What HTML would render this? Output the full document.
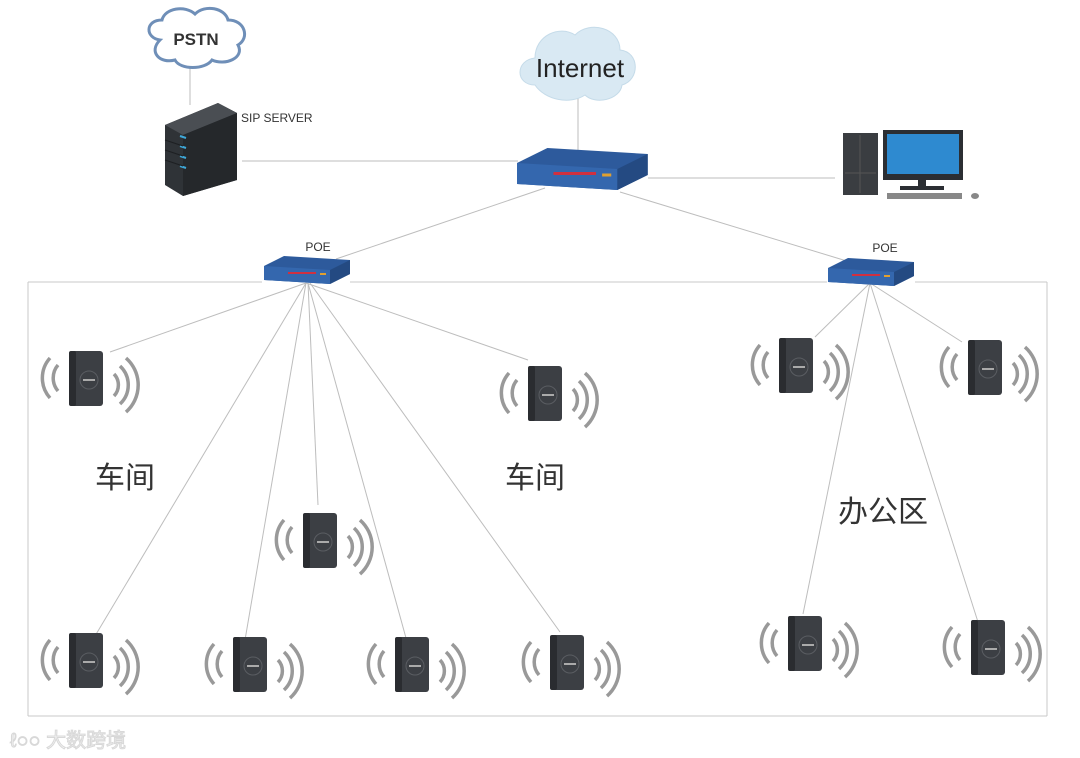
<!DOCTYPE html>
<html><head><meta charset="utf-8"><style>
html,body{margin:0;padding:0;background:#fff;}
svg{display:block}
text{font-family:"Liberation Sans","Noto Sans CJK SC",sans-serif}
</style></head><body>
<svg width="1080" height="758" viewBox="0 0 1080 758" xmlns="http://www.w3.org/2000/svg">
<defs>
<g id="ap">
  <path d="M-36,-20 A30,30 0 0 0 -36,20" fill="none" stroke="#999" stroke-width="3.5"/>
  <path d="M-28,-13 A20,20 0 0 0 -28,13" fill="none" stroke="#999" stroke-width="3.5"/>
  <path d="M28,-4 A16,16 0 0 1 28,18" fill="none" stroke="#999" stroke-width="3.5"/>
  <path d="M34,-12 A26,26 0 0 1 34,26" fill="none" stroke="#999" stroke-width="3.5"/>
  <path d="M40,-20 A36,36 0 0 1 40,34" fill="none" stroke="#999" stroke-width="3.5"/>
  <rect x="-17" y="-27" width="34" height="55" rx="3" fill="#3c3f44"/>
  <rect x="-17" y="-27" width="7" height="55" rx="2" fill="#2a2c30"/>
  <circle cx="3" cy="2" r="9" fill="none" stroke="#5a5d62" stroke-width="1"/>
  <rect x="-3" y="1" width="12" height="2" fill="#aaa"/>
</g>
<g id="sw">
  <path d="M0,10 L20,0 L86,4 L86,18 L66,28 L0,24 Z" fill="#2d5a9c"/>
  <path d="M0,10 L66,14 L66,28 L0,24 Z" fill="#3467ae"/>
  <path d="M66,14 L86,4 L86,18 L66,28 Z" fill="#244a82"/>
  <rect x="24" y="16" width="28" height="2" fill="#d03040"/>
  <rect x="56" y="17" width="6" height="2" fill="#e0a030"/>
</g>
</defs>

<!-- border -->
<g stroke="#c8c8c8" stroke-width="1" fill="none">
<line x1="28" y1="282" x2="262" y2="282"/>
<line x1="350" y1="282" x2="827" y2="282"/>
<line x1="915" y1="282" x2="1047" y2="282"/>
<line x1="1047" y1="282" x2="1047" y2="716"/>
<line x1="28" y1="716" x2="1047" y2="716"/>
<line x1="28" y1="282" x2="28" y2="716"/>
</g>

<!-- lines -->
<g stroke="#bdbdbd" stroke-width="1" fill="none">
<line x1="190" y1="62" x2="190" y2="105"/>
<line x1="578" y1="98" x2="578" y2="150"/>
<line x1="242" y1="161" x2="518" y2="161"/>
<line x1="648" y1="178" x2="835" y2="178"/>
<line x1="545" y1="188" x2="336" y2="259"/>
<line x1="620" y1="192" x2="850" y2="262"/>
<line x1="306" y1="283" x2="110" y2="352"/>
<line x1="306" y1="283" x2="528" y2="360"/>
<line x1="306" y1="283" x2="95" y2="636"/>
<line x1="306" y1="283" x2="245" y2="640"/>
<line x1="308" y1="283" x2="318" y2="505"/>
<line x1="308" y1="283" x2="406" y2="638"/>
<line x1="310" y1="283" x2="560" y2="632"/>
<line x1="870" y1="283" x2="815" y2="337"/>
<line x1="870" y1="283" x2="962" y2="342"/>
<line x1="870" y1="283" x2="803" y2="614"/>
<line x1="870" y1="283" x2="978" y2="622"/>
</g>

<!-- PSTN cloud -->
<g>
<path d="M160,40 C145,38 145,20 162,20 C165,8 185,5 195,14 C205,4 225,8 228,20 C245,20 250,38 238,45 C245,58 225,66 212,60 C205,70 180,70 175,60 C160,64 148,52 160,40 Z" fill="#fff" stroke="#6f8fb8" stroke-width="3"/>
<text x="196" y="45" font-size="17" font-weight="bold" text-anchor="middle" fill="#333">PSTN</text>
</g>

<!-- server -->
<g>
<path d="M165,125 L218,103 L237,113 L237,180 L183,196 L165,185 Z" fill="#2f3337"/>
<path d="M165,125 L218,103 L237,113 L183,135 Z" fill="#4a4e53"/>
<path d="M183,135 L237,113 L237,180 L183,196 Z" fill="#25282b"/>
<g stroke="#3fa8d8" stroke-width="2"><line x1="180" y1="136" x2="186" y2="138"/><line x1="180" y1="146" x2="186" y2="148"/><line x1="180" y1="156" x2="186" y2="158"/><line x1="180" y1="166" x2="186" y2="168"/></g>
<g stroke="#1d1f22" stroke-width="1"><line x1="165" y1="140" x2="183" y2="146"/><line x1="165" y1="150" x2="183" y2="156"/><line x1="165" y1="160" x2="183" y2="166"/></g>
<text x="241" y="122" font-size="12" fill="#333">SIP SERVER</text>
</g>

<!-- Internet cloud -->
<g>
<path d="M535,85 C515,85 515,60 535,58 C535,35 560,25 575,35 C590,20 620,28 620,50 C640,52 640,80 622,85 C620,100 595,105 585,95 C570,105 545,100 535,85 Z" fill="#d9e9f3" stroke="#c5dbe9" stroke-width="1"/>
<text x="580" y="77" font-size="26" text-anchor="middle" fill="#222">Internet</text>
</g>

<!-- main switch -->
<g transform="translate(517,148) scale(1.52,1.5)"><use href="#sw"/></g>

<!-- PC -->
<g>
<rect x="843" y="133" width="35" height="62" fill="#3a3d41"/>
<line x1="860" y1="135" x2="860" y2="193" stroke="#555" stroke-width="1"/>
<line x1="845" y1="173" x2="876" y2="173" stroke="#555" stroke-width="1"/>
<rect x="883" y="130" width="80" height="50" fill="#2b2e33"/>
<rect x="887" y="134" width="72" height="40" fill="#2e8ad0"/>
<rect x="918" y="180" width="8" height="7" fill="#2b2e33"/>
<rect x="900" y="186" width="44" height="4" fill="#2b2e33"/>
<rect x="887" y="193" width="75" height="6" fill="#888"/>
<ellipse cx="975" cy="196" rx="4" ry="3" fill="#888"/>
</g>

<!-- POE switches -->
<text x="318" y="251" font-size="12" text-anchor="middle" fill="#333">POE</text>
<g transform="translate(264,256)"><use href="#sw"/></g>
<text x="885" y="252" font-size="12" text-anchor="middle" fill="#333">POE</text>
<g transform="translate(828,258)"><use href="#sw"/></g>

<!-- APs -->
<use href="#ap" x="86" y="378"/>
<use href="#ap" x="545" y="393"/>
<use href="#ap" x="320" y="540"/>
<use href="#ap" x="86" y="660"/>
<use href="#ap" x="250" y="664"/>
<use href="#ap" x="412" y="664"/>
<use href="#ap" x="567" y="662"/>
<use href="#ap" x="796" y="365"/>
<use href="#ap" x="985" y="367"/>
<use href="#ap" x="805" y="643"/>
<use href="#ap" x="988" y="647"/>

<!-- labels -->
<text x="95" y="488" font-size="30" fill="#333" font-family="'Noto Serif CJK SC','Noto Sans CJK SC',serif">车间</text>
<text x="505" y="488" font-size="30" fill="#333" font-family="'Noto Serif CJK SC','Noto Sans CJK SC',serif">车间</text>
<text x="838" y="522" font-size="30" fill="#333" font-family="'Noto Serif CJK SC','Noto Sans CJK SC',serif">办公区</text>

<!-- watermark -->
<text x="10" y="747" font-size="20" fill="#f4f4f4" stroke="#d8d8d8" stroke-width="1">ℓ○○ 大数跨境</text>
</svg>
</body></html>
